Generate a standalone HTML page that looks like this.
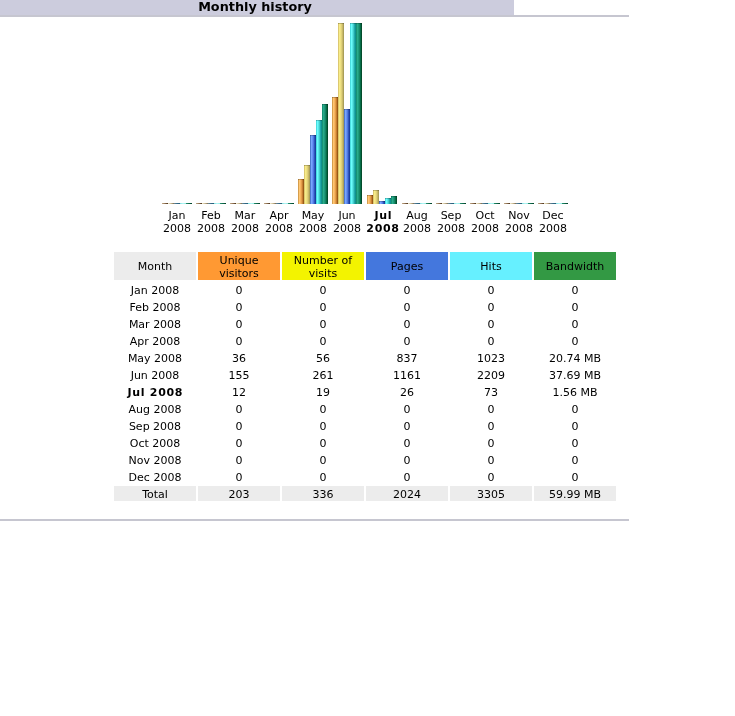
<!DOCTYPE html>
<html><head><meta charset="utf-8"><title>Monthly history</title>
<style>
html,body{margin:0;padding:0;background:#fff;}
body{width:735px;height:716px;position:relative;overflow:hidden;font-family:"DejaVu Sans","Liberation Sans",sans-serif;font-size:11px;color:#000;}
.abs{position:absolute;}
.title{left:0;top:0;width:514px;height:15px;background:#CCCCDD;}
.title span{position:absolute;left:-2px;width:514px;text-align:center;top:-1px;font-weight:bold;font-size:12.8px;line-height:16px;}
.b{position:absolute;width:6px;box-sizing:border-box;border-top:1px solid rgba(0,0,0,.22);}
.z{border-top:0;}
.u{background:linear-gradient(90deg,#C08838 0%,#FFC874 24%,#F4AE58 50%,#C47C30 76%,#84460A 100%);}
.v{background:linear-gradient(90deg,#CDB664 0%,#F8EC88 24%,#EADC80 50%,#C8B868 76%,#989050 100%);}
.p{background:linear-gradient(90deg,#3860B4 0%,#78A8FF 24%,#6088F0 50%,#2C54BC 76%,#103090 100%);}
.h{background:linear-gradient(90deg,#38CCD0 0%,#6CFFFF 24%,#50DCDC 50%,#20A8A8 76%,#088484 100%);}
.k{background:linear-gradient(90deg,#0E8668 0%,#2AAC8C 24%,#1A9272 50%,#066A46 76%,#003C1C 100%);}
.u.z{background:linear-gradient(90deg,#C0A888 0%,#907050 50%,#483018 100%);}
.v.z{background:linear-gradient(90deg,#F4ECD0 0%,#C8B890 50%,#786850 100%);}
.p.z{background:linear-gradient(90deg,#708890 0%,#306888 55%,#286078 100%);}
.h.z{background:linear-gradient(90deg,#78DCDC 0%,#B4F8F8 50%,#90E8E0 100%);}
.k.z{background:linear-gradient(90deg,#259070 0%,#0C6848 50%,#004028 100%);}
.ml{position:absolute;top:209px;width:40px;text-align:center;line-height:13px;font-size:11px;}
.c{position:absolute;width:82px;text-align:center;font-size:11px;line-height:13px;}
.hd{top:252px;height:28px;}
.tot{top:486px;height:15px;background:#ECECEC;}
</style></head><body>
<div class="abs title"><span>Monthly history</span></div>
<div class="abs" style="left:0;top:15px;width:629px;height:2px;background:#C6C6D0"></div>
<div class="abs" style="left:0;top:519px;width:629px;height:2px;background:#C6C6D0"></div>
<div class="b u z" style="left:162px;top:203px;height:1px"></div><div class="b v z" style="left:168px;top:203px;height:1px"></div><div class="b p z" style="left:174px;top:203px;height:1px"></div><div class="b h z" style="left:180px;top:203px;height:1px"></div><div class="b k z" style="left:186px;top:203px;height:1px"></div><div class="ml" style="left:157px">Jan<br>2008</div>
<div class="b u z" style="left:196px;top:203px;height:1px"></div><div class="b v z" style="left:202px;top:203px;height:1px"></div><div class="b p z" style="left:208px;top:203px;height:1px"></div><div class="b h z" style="left:214px;top:203px;height:1px"></div><div class="b k z" style="left:220px;top:203px;height:1px"></div><div class="ml" style="left:191px">Feb<br>2008</div>
<div class="b u z" style="left:230px;top:203px;height:1px"></div><div class="b v z" style="left:236px;top:203px;height:1px"></div><div class="b p z" style="left:242px;top:203px;height:1px"></div><div class="b h z" style="left:248px;top:203px;height:1px"></div><div class="b k z" style="left:254px;top:203px;height:1px"></div><div class="ml" style="left:225px">Mar<br>2008</div>
<div class="b u z" style="left:264px;top:203px;height:1px"></div><div class="b v z" style="left:270px;top:203px;height:1px"></div><div class="b p z" style="left:276px;top:203px;height:1px"></div><div class="b h z" style="left:282px;top:203px;height:1px"></div><div class="b k z" style="left:288px;top:203px;height:1px"></div><div class="ml" style="left:259px">Apr<br>2008</div>
<div class="b u" style="left:298px;top:179px;height:25px"></div><div class="b v" style="left:304px;top:165px;height:39px"></div><div class="b p" style="left:310px;top:135px;height:69px"></div><div class="b h" style="left:316px;top:120px;height:84px"></div><div class="b k" style="left:322px;top:104px;height:100px"></div><div class="ml" style="left:293px">May<br>2008</div>
<div class="b u" style="left:332px;top:97px;height:107px"></div><div class="b v" style="left:338px;top:23px;height:181px"></div><div class="b p" style="left:344px;top:109px;height:95px"></div><div class="b h" style="left:350px;top:23px;height:181px"></div><div class="b k" style="left:356px;top:23px;height:181px"></div><div class="ml" style="left:327px">Jun<br>2008</div>
<div class="b u" style="left:367px;top:195px;height:9px"></div><div class="b v" style="left:373px;top:190px;height:14px"></div><div class="b p" style="left:379px;top:201px;height:3px"></div><div class="b h" style="left:385px;top:198px;height:6px"></div><div class="b k" style="left:391px;top:196px;height:8px"></div><div class="ml" style="left:363px;font-weight:bold;letter-spacing:.7px;text-indent:.7px">Jul<br>2008</div>
<div class="b u z" style="left:402px;top:203px;height:1px"></div><div class="b v z" style="left:408px;top:203px;height:1px"></div><div class="b p z" style="left:414px;top:203px;height:1px"></div><div class="b h z" style="left:420px;top:203px;height:1px"></div><div class="b k z" style="left:426px;top:203px;height:1px"></div><div class="ml" style="left:397px">Aug<br>2008</div>
<div class="b u z" style="left:436px;top:203px;height:1px"></div><div class="b v z" style="left:442px;top:203px;height:1px"></div><div class="b p z" style="left:448px;top:203px;height:1px"></div><div class="b h z" style="left:454px;top:203px;height:1px"></div><div class="b k z" style="left:460px;top:203px;height:1px"></div><div class="ml" style="left:431px">Sep<br>2008</div>
<div class="b u z" style="left:470px;top:203px;height:1px"></div><div class="b v z" style="left:476px;top:203px;height:1px"></div><div class="b p z" style="left:482px;top:203px;height:1px"></div><div class="b h z" style="left:488px;top:203px;height:1px"></div><div class="b k z" style="left:494px;top:203px;height:1px"></div><div class="ml" style="left:465px">Oct<br>2008</div>
<div class="b u z" style="left:504px;top:203px;height:1px"></div><div class="b v z" style="left:510px;top:203px;height:1px"></div><div class="b p z" style="left:516px;top:203px;height:1px"></div><div class="b h z" style="left:522px;top:203px;height:1px"></div><div class="b k z" style="left:528px;top:203px;height:1px"></div><div class="ml" style="left:499px">Nov<br>2008</div>
<div class="b u z" style="left:538px;top:203px;height:1px"></div><div class="b v z" style="left:544px;top:203px;height:1px"></div><div class="b p z" style="left:550px;top:203px;height:1px"></div><div class="b h z" style="left:556px;top:203px;height:1px"></div><div class="b k z" style="left:562px;top:203px;height:1px"></div><div class="ml" style="left:533px">Dec<br>2008</div>
<div class="c hd" style="left:114px;background:#ECECEC"><div style="padding-top:8px">Month</div></div><div class="c hd" style="left:198px;background:#FF9933"><div style="padding-top:2px">Unique<br>visitors</div></div><div class="c hd" style="left:282px;background:#F3F300"><div style="padding-top:2px">Number of<br>visits</div></div><div class="c hd" style="left:366px;background:#4477DD"><div style="padding-top:8px">Pages</div></div><div class="c hd" style="left:450px;background:#66F0FF"><div style="padding-top:8px">Hits</div></div><div class="c hd" style="left:534px;background:#339944"><div style="padding-top:8px">Bandwidth</div></div>
<div class="c" style="left:114px;top:284px">Jan 2008</div><div class="c" style="left:198px;top:284px">0</div><div class="c" style="left:282px;top:284px">0</div><div class="c" style="left:366px;top:284px">0</div><div class="c" style="left:450px;top:284px">0</div><div class="c" style="left:534px;top:284px">0</div>
<div class="c" style="left:114px;top:301px">Feb 2008</div><div class="c" style="left:198px;top:301px">0</div><div class="c" style="left:282px;top:301px">0</div><div class="c" style="left:366px;top:301px">0</div><div class="c" style="left:450px;top:301px">0</div><div class="c" style="left:534px;top:301px">0</div>
<div class="c" style="left:114px;top:318px">Mar 2008</div><div class="c" style="left:198px;top:318px">0</div><div class="c" style="left:282px;top:318px">0</div><div class="c" style="left:366px;top:318px">0</div><div class="c" style="left:450px;top:318px">0</div><div class="c" style="left:534px;top:318px">0</div>
<div class="c" style="left:114px;top:335px">Apr 2008</div><div class="c" style="left:198px;top:335px">0</div><div class="c" style="left:282px;top:335px">0</div><div class="c" style="left:366px;top:335px">0</div><div class="c" style="left:450px;top:335px">0</div><div class="c" style="left:534px;top:335px">0</div>
<div class="c" style="left:114px;top:352px">May 2008</div><div class="c" style="left:198px;top:352px">36</div><div class="c" style="left:282px;top:352px">56</div><div class="c" style="left:366px;top:352px">837</div><div class="c" style="left:450px;top:352px">1023</div><div class="c" style="left:534px;top:352px">20.74 MB</div>
<div class="c" style="left:114px;top:369px">Jun 2008</div><div class="c" style="left:198px;top:369px">155</div><div class="c" style="left:282px;top:369px">261</div><div class="c" style="left:366px;top:369px">1161</div><div class="c" style="left:450px;top:369px">2209</div><div class="c" style="left:534px;top:369px">37.69 MB</div>
<div class="c" style="left:114px;top:386px;font-weight:bold;letter-spacing:.7px;text-indent:.7px">Jul 2008</div><div class="c" style="left:198px;top:386px">12</div><div class="c" style="left:282px;top:386px">19</div><div class="c" style="left:366px;top:386px">26</div><div class="c" style="left:450px;top:386px">73</div><div class="c" style="left:534px;top:386px">1.56 MB</div>
<div class="c" style="left:114px;top:403px">Aug 2008</div><div class="c" style="left:198px;top:403px">0</div><div class="c" style="left:282px;top:403px">0</div><div class="c" style="left:366px;top:403px">0</div><div class="c" style="left:450px;top:403px">0</div><div class="c" style="left:534px;top:403px">0</div>
<div class="c" style="left:114px;top:420px">Sep 2008</div><div class="c" style="left:198px;top:420px">0</div><div class="c" style="left:282px;top:420px">0</div><div class="c" style="left:366px;top:420px">0</div><div class="c" style="left:450px;top:420px">0</div><div class="c" style="left:534px;top:420px">0</div>
<div class="c" style="left:114px;top:437px">Oct 2008</div><div class="c" style="left:198px;top:437px">0</div><div class="c" style="left:282px;top:437px">0</div><div class="c" style="left:366px;top:437px">0</div><div class="c" style="left:450px;top:437px">0</div><div class="c" style="left:534px;top:437px">0</div>
<div class="c" style="left:114px;top:454px">Nov 2008</div><div class="c" style="left:198px;top:454px">0</div><div class="c" style="left:282px;top:454px">0</div><div class="c" style="left:366px;top:454px">0</div><div class="c" style="left:450px;top:454px">0</div><div class="c" style="left:534px;top:454px">0</div>
<div class="c" style="left:114px;top:471px">Dec 2008</div><div class="c" style="left:198px;top:471px">0</div><div class="c" style="left:282px;top:471px">0</div><div class="c" style="left:366px;top:471px">0</div><div class="c" style="left:450px;top:471px">0</div><div class="c" style="left:534px;top:471px">0</div>
<div class="c tot" style="left:114px"><div style="padding-top:2px">Total</div></div><div class="c tot" style="left:198px"><div style="padding-top:2px">203</div></div><div class="c tot" style="left:282px"><div style="padding-top:2px">336</div></div><div class="c tot" style="left:366px"><div style="padding-top:2px">2024</div></div><div class="c tot" style="left:450px"><div style="padding-top:2px">3305</div></div><div class="c tot" style="left:534px"><div style="padding-top:2px">59.99 MB</div></div>
</body></html>
